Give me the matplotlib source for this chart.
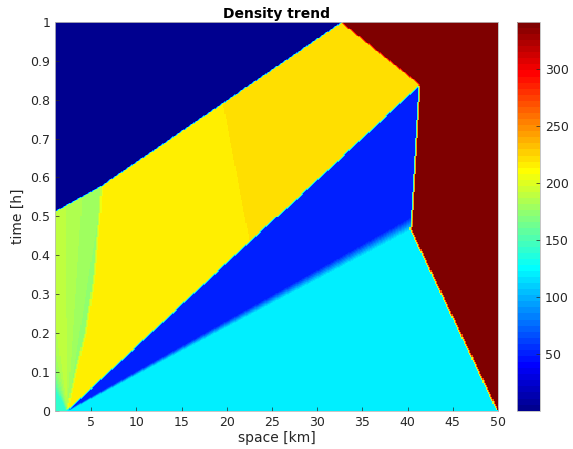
import numpy as np
import matplotlib
matplotlib.use("Agg")
import matplotlib.pyplot as plt
from matplotlib.colors import ListedColormap
from matplotlib.ticker import FormatStrFormatter

# wave fronts (space in km, time in h)
vacuum_edge_x = [1.0, 6.1, 32.7]
vacuum_edge_t = [0.515, 0.58, 1.0]
jam_edge_t = [0.0, 0.464, 0.84, 1.0]
jam_edge_x = [50.0, 40.4, 41.4, 32.7]
queue_tail_x = [2.3, 41.4]
queue_tail_t = [0.0, 0.84]
free_edge_x = [2.5, 40.4]
free_edge_t = [0.0, 0.464]
fan_edge_t = [0.0, 0.079, 0.199, 0.335, 0.507, 0.575, 1.0]
fan_edge_x = [2.3, 3.03, 4.33, 5.25, 5.9, 6.1, 6.1]
contact_t = [0.425, 0.789, 1.0]
contact_x = [22.6, 19.6, 19.6]

# fan densities against ray speed (km/h) from the origin of the fan
fan_speed = [-26, -13, -5, -2.5, 0, 5, 12, 30]
fan_rho = [140, 172, 188, 190, 186, 178, 170, 155]

rho_vacuum = 0
rho_jam = 341
rho_free = 120
rho_low = 50
rho_main = 216
rho_gold = 221


def matlab_jet(m=64):
    n = int(np.ceil(m / 4))
    u = np.concatenate([np.arange(1, n + 1) / n, np.ones(n - 1), np.arange(n, 0, -1) / n])
    g = int(np.ceil(n / 2)) - (1 if m % 4 == 1 else 0) + np.arange(1, len(u) + 1)
    r = g + n
    b = g - n
    J = np.zeros((m, 3))
    for col, idx in ((0, r), (1, g), (2, b)):
        ok = (idx >= 1) & (idx <= m)
        J[idx[ok] - 1, col] = u[ok]
    return ListedColormap(J)


nx, nt = 400, 390
x = np.linspace(1, 50, nx)
t = np.linspace(0, 1, nt)
X, T = np.meshgrid(x, t)

# low density queue between free flow and queue tail
free_line = np.interp(X, free_edge_x, free_edge_t)
ramp = 0.003 + 0.03 * np.clip((X - free_edge_x[0]) / (free_edge_x[1] - free_edge_x[0]), 0, 1)
frac = np.clip((T - free_line) / ramp, 0, 1)
Z = rho_free + (rho_low - rho_free) * frac

# dense platoon above queue tail
tail_line = np.interp(X, queue_tail_x, queue_tail_t)
above_tail = T > tail_line
contact = np.interp(T, contact_t, contact_x)
Z[above_tail] = np.where(X[above_tail] > contact[above_tail], rho_gold, rho_main)

# rarefaction fan at the left
fan_x = np.interp(T, fan_edge_t, fan_edge_x)
in_fan = X < fan_x
u = (X - fan_edge_x[0]) / np.maximum(T, 1e-4)
Z[in_fan] = np.interp(u[in_fan], fan_speed, fan_rho)

# empty road above the vacuum front
vac_line = np.interp(X, vacuum_edge_x, vacuum_edge_t)
Z[T > vac_line] = rho_vacuum

# jam region at the right
jam_x = np.interp(T, jam_edge_t, jam_edge_x)
Z[X > jam_x] = rho_jam

# numerical smear of the fronts
Z[:, 1:-1] = (Z[:, :-2] + Z[:, 1:-1] + Z[:, 2:]) / 3

fig = plt.figure(figsize=(5.73, 4.49), dpi=100)
ax = fig.add_axes([0.096, 0.0853, 0.773, 0.866])
im = ax.imshow(Z, extent=[1, 50, 0, 1], origin="lower", aspect="auto",
               cmap=matlab_jet(64), vmin=0, vmax=341,
               interpolation="nearest")

txt = "#262626"
ax.set_xlim(1, 50)
ax.set_ylim(0, 1)
ax.set_xticks(np.arange(5, 51, 5))
ax.set_yticks(np.arange(0, 1.01, 0.1))
ax.yaxis.set_major_formatter(FormatStrFormatter("%g"))
ax.tick_params(direction="in", length=3, labelsize=9, colors=txt, width=0.5)
for s in ax.spines.values():
    s.set_color("#bbbbbb")
    s.set_linewidth(0.6)
ax.set_xlabel("space [km]", fontsize=10, color=txt, labelpad=2)
ax.set_ylabel("time [h]", fontsize=10, color=txt, labelpad=4)
ax.set_title("Density trend", fontsize=10, fontweight="bold", pad=3)

cax = fig.add_axes([0.902, 0.0853, 0.040, 0.866])
cb = fig.colorbar(im, cax=cax, ticks=[50, 100, 150, 200, 250, 300])
cb.ax.tick_params(direction="in", length=3, labelsize=9, colors=txt, width=0.5)
cb.outline.set_edgecolor("#bbbbbb")
cb.outline.set_linewidth(0.6)

fig.savefig("out.png", dpi=100)
